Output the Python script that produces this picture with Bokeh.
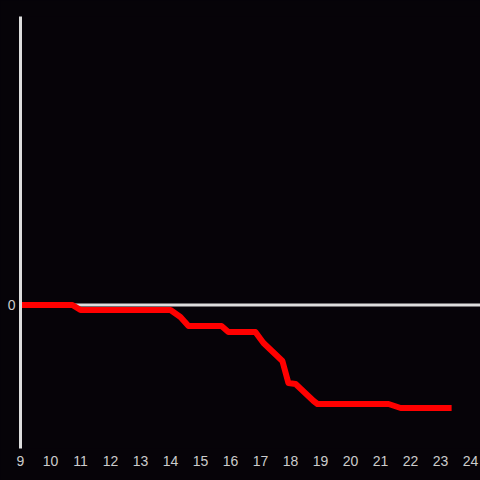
from bokeh.plotting import figure
from bokeh.models import Span, FixedTicker, Range1d
from bokeh.embed import file_html
from bokeh.resources import INLINE

# data (hours of day, value relative to start)
hours = [9.0, 10.73, 11.0, 14.0, 14.33, 14.6, 15.7, 15.93, 16.83, 17.0, 17.1, 17.73,
         17.93, 18.17, 18.77, 18.9, 21.27, 21.67, 23.37]
values = [0.0, 0.0, -0.05, -0.05, -0.12, -0.21, -0.21, -0.27, -0.27, -0.34, -0.38, -0.56,
          -0.78, -0.79, -0.96, -0.99, -0.99, -1.03, -1.03]
x_ticks = list(range(9, 25))
y_ticks = [0]

BG = "#060308"
AX = "#dddddd"

p = figure(width=480, height=480, output_backend="svg", toolbar_location=None,
           x_range=Range1d(9, 24.333), y_range=Range1d(-1.435, 2.885),
           background_fill_color=BG, border_fill_color=BG,
           min_border_left=20, min_border_right=0, min_border_top=16, min_border_bottom=32,
           outline_line_color=None)
p.styles = {"background-color": BG}
p.grid.visible = False

p.add_layout(Span(location=0, dimension="width", line_color=AX, line_width=3, level="underlay"))

p.line(hours, values, line_color="#ff0000", line_width=6, line_join="round", line_cap="butt")

p.xaxis.ticker = FixedTicker(ticks=x_ticks)
p.xaxis.axis_line_color = None
p.xaxis.major_tick_line_color = None
p.xaxis.minor_tick_line_color = None
p.xaxis.major_tick_out = 0
p.xaxis.major_label_standoff = 7
p.xaxis.major_label_text_color = "#cccccc"
p.xaxis.major_label_text_font = "Liberation Sans"
p.xaxis.major_label_text_font_size = "14px"

p.yaxis.ticker = FixedTicker(ticks=y_ticks)
p.yaxis.axis_line_color = AX
p.yaxis.axis_line_width = 3
p.yaxis.major_tick_line_color = None
p.yaxis.minor_tick_line_color = None
p.yaxis.major_tick_out = 0
p.yaxis.major_label_standoff = 5
p.yaxis.major_label_text_color = "#cccccc"
p.yaxis.major_label_text_font = "Liberation Sans"
p.yaxis.major_label_text_font_size = "14px"

open("out.html", "w").write(file_html(p, INLINE))
